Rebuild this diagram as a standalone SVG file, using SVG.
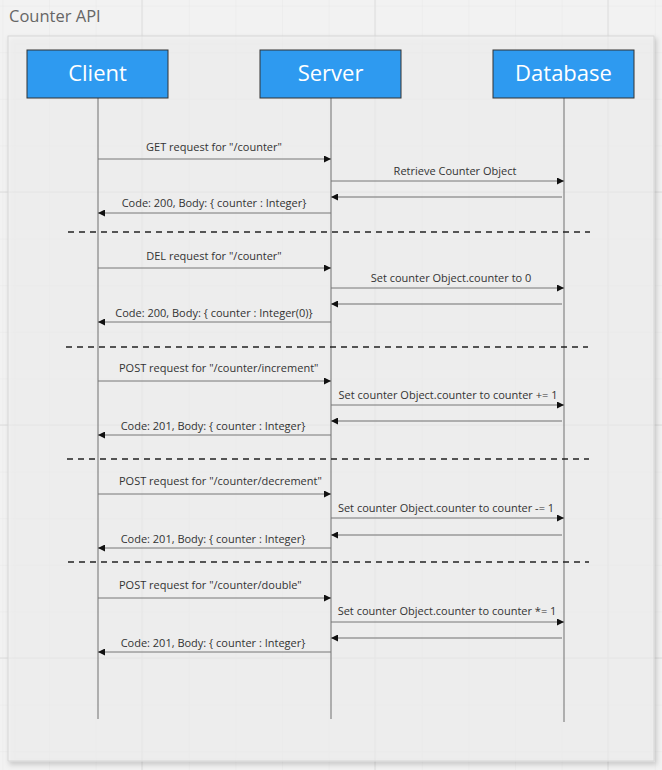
<svg xmlns="http://www.w3.org/2000/svg" width="662" height="770" viewBox="0 0 662 770">
<defs>
<marker id="ah" viewBox="0 0 10 10" refX="10" refY="5" markerWidth="9" markerHeight="7" markerUnits="userSpaceOnUse" orient="auto">
<path d="M0,0 L10,5 L0,10 z" fill="#111"/>
</marker>
<filter id="sh" x="-5%" y="-5%" width="110%" height="110%">
<feDropShadow dx="2" dy="3" stdDeviation="2.5" flood-color="#000" flood-opacity="0.25"/>
</filter>
<pattern id="minor" width="46.6" height="46.6" patternUnits="userSpaceOnUse" x="2.4" y="5.6">
<path d="M0,0 H46.6 M0,0 V46.6" fill="none" stroke="#e8e8e8" stroke-width="1"/>
</pattern>
</defs>
<style>
.lbl{font-family:"Open Sans","Noto Sans",sans-serif;font-size:11px;fill:#333;text-anchor:middle}
.lbs{font-family:"Open Sans","Noto Sans",sans-serif;font-size:11px;fill:#333;text-anchor:start}
.box{fill:#2e9af0;stroke:#333;stroke-width:1}
.btxt{font-family:"Open Sans","Noto Sans",sans-serif;font-size:22px;fill:#fff;text-anchor:middle}
.msg{stroke:#777;stroke-width:1;fill:none;marker-end:url(#ah)}
.ret{stroke:#999;stroke-width:1.6;fill:none;marker-end:url(#ah)}
.life{stroke:#999;stroke-width:1.5}
.sep{stroke:#222;stroke-width:1.5;stroke-dasharray:6 5}
</style>
<rect width="662" height="770" fill="#f2f2f2"/>
<rect width="662" height="770" fill="url(#minor)"/>
<g stroke="#dddddd" stroke-width="1">
<path d="M142,0V770M375,0V770M608,0V770M0,192H662M0,425H662M0,658H662"/>
</g>
<text x="9" y="22" font-family="'Open Sans','Noto Sans',sans-serif" font-size="16.5" fill="#666">Counter API</text>
<g id="frame">
<rect x="8" y="36" width="646" height="725" fill="#f3f3f3" fill-opacity="0.6" stroke="#d6d6d6" filter="url(#sh)"/>
</g>
<g id="lifelines">
<line class="life" x1="98" y1="98" x2="98" y2="719"/>
<line class="life" x1="331" y1="98" x2="331" y2="719"/>
<line class="life" x1="564" y1="98" x2="564" y2="722"/>
</g>
<g id="client"><rect class="box" x="27" y="50" width="141" height="48"/><text class="btxt" x="97.5" y="81">Client</text></g>
<g id="server"><rect class="box" x="260" y="50" width="141" height="48"/><text class="btxt" x="330.5" y="81">Server</text></g>
<g id="database"><rect class="box" x="493" y="50" width="141" height="48"/><text class="btxt" x="563.5" y="81">Database</text></g>
<g id="connectors">
<line class="msg" x1="98" y1="159" x2="331" y2="159"/>
<line class="msg" x1="331" y1="181" x2="564" y2="181"/>
<line class="ret" x1="562" y1="197" x2="331" y2="197"/>
<line class="msg" x1="331" y1="213" x2="98" y2="213"/>
<line class="sep" x1="68" y1="232" x2="590" y2="232"/>

<line class="msg" x1="98" y1="268" x2="331" y2="268"/>
<line class="msg" x1="331" y1="288" x2="564" y2="288"/>
<line class="ret" x1="562" y1="304" x2="331" y2="304"/>
<line class="msg" x1="331" y1="322" x2="98" y2="322"/>
<line class="sep" x1="66" y1="347" x2="588" y2="347"/>

<line class="msg" x1="98" y1="381" x2="331" y2="381"/>
<line class="msg" x1="331" y1="405" x2="564" y2="405"/>
<line class="ret" x1="562" y1="421" x2="331" y2="421"/>
<line class="msg" x1="331" y1="435" x2="98" y2="435"/>
<line class="sep" x1="67" y1="459" x2="589" y2="459"/>

<line class="msg" x1="98" y1="494" x2="331" y2="494"/>
<line class="msg" x1="331" y1="518" x2="564" y2="518"/>
<line class="ret" x1="562" y1="535" x2="331" y2="535"/>
<line class="msg" x1="331" y1="548" x2="98" y2="548"/>
<line class="sep" x1="68" y1="562" x2="589" y2="562"/>

<line class="msg" x1="98" y1="598" x2="331" y2="598"/>
<line class="msg" x1="331" y1="622" x2="564" y2="622"/>
<line class="ret" x1="562" y1="638" x2="331" y2="638"/>
<line class="msg" x1="331" y1="652" x2="98" y2="652"/>
</g>
<g id="labels">
<text class="lbl" x="214" y="151">GET request for "/counter"</text>
<text class="lbl" x="455" y="175">Retrieve Counter Object</text>
<text class="lbl" x="214" y="207">Code: 200, Body: { counter : Integer}</text>

<text class="lbl" x="214" y="260">DEL request for "/counter"</text>
<text class="lbl" x="451" y="282">Set counter Object.counter to 0</text>
<text class="lbl" x="214" y="317">Code: 200, Body: { counter : Integer(0)}</text>

<text class="lbs" x="119" y="372">POST request for "/counter/increment"</text>
<text class="lbl" x="448" y="399">Set counter Object.counter to counter += 1</text>
<text class="lbl" x="213" y="430">Code: 201, Body: { counter : Integer}</text>

<text class="lbs" x="119" y="485">POST request for "/counter/decrement"</text>
<text class="lbl" x="446" y="512">Set counter Object.counter to counter -= 1</text>
<text class="lbl" x="213" y="543">Code: 201, Body: { counter : Integer}</text>

<text class="lbs" x="119" y="589">POST request for "/counter/double"</text>
<text class="lbl" x="447" y="615">Set counter Object.counter to counter *= 1</text>
<text class="lbl" x="213" y="647">Code: 201, Body: { counter : Integer}</text>
</g>
</svg>
